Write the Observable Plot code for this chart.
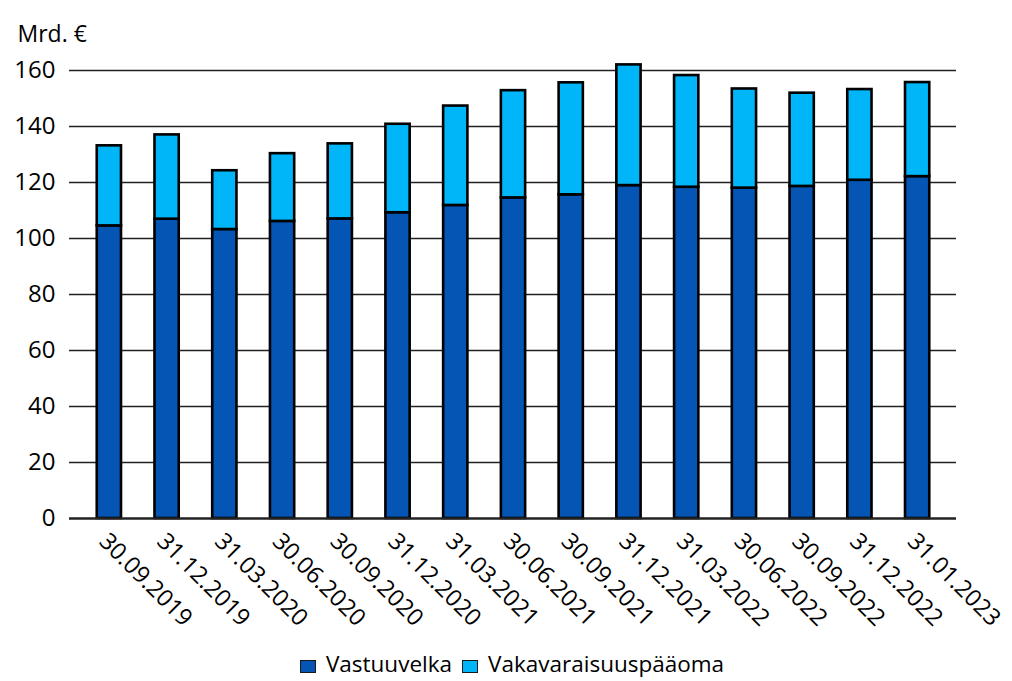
<!DOCTYPE html>
<html>
<head>
<meta charset="utf-8">
<script src="https://cdn.jsdelivr.net/npm/d3@7"></script>
<script src="https://cdn.jsdelivr.net/npm/@observablehq/plot@0.6"></script>
<style>
  body { margin: 0; background: white; font-family: "Open Sans", sans-serif; }
  #legend { display: flex; justify-content: center; align-items: center; height: 36px; font-size: 22.5px; color: #000; padding-left: 12px; }
  .item { display: flex; align-items: center; margin: 0 5px; }
  .sw { width: 14px; height: 11px; border: 1px solid #1a1a1a; margin-right: 10px; margin-top: 7px; }
</style>
</head>
<body>
<div id="chart"></div>
<div id="legend"></div>
<script>
const dates = ["30.09.2019","31.12.2019","31.03.2020","30.06.2020","30.09.2020","31.12.2020","31.03.2021","30.06.2021","30.09.2021","31.12.2021","31.03.2022","30.06.2022","30.09.2022","31.12.2022","31.01.2023"];
const vastuuvelka = [104.5, 106.9, 103.2, 106.1, 107.0, 109.2, 111.8, 114.5, 115.6, 118.9, 118.3, 118.0, 118.6, 120.8, 122.1];
const vakavaraisuuspaaoma = [28.6, 30.1, 21.0, 24.2, 26.8, 31.6, 35.5, 38.3, 40.0, 43.1, 39.9, 35.4, 33.3, 32.4, 33.6];
const seriesNames = ["Vastuuvelka", "Vakavaraisuuspääoma"];
const seriesColors = ["#0455B4", "#00B6F8"];
const yTicks = [0, 20, 40, 60, 80, 100, 120, 140, 160];

const rows = [];
dates.forEach((d, i) => {
  rows.push({date: d, series: seriesNames[0], value: vastuuvelka[i]});
  rows.push({date: d, series: seriesNames[1], value: vakavaraisuuspaaoma[i]});
});

const plot = Plot.plot({
  width: 1012,
  height: 645,
  marginLeft: 80,
  marginRight: 66,
  marginTop: 70,
  marginBottom: 127,
  style: {fontFamily: "Open Sans", fontSize: "24px", color: "#000", background: "white"},
  x: {domain: dates, paddingInner: 0.58, paddingOuter: 0.29, round: false, label: null},
  y: {domain: [0, 160], label: null},
  color: {domain: seriesNames, range: seriesColors},
  marks: [
    Plot.ruleY(yTicks.filter(t => t > 0), {stroke: "#222", strokeWidth: 1.4, insetLeft: -11, insetRight: -10}),
    Plot.barY(rows, Plot.stackY({x: "date", y: "value", fill: "series", order: seriesNames, stroke: "#000", strokeWidth: 2.6})),
    Plot.ruleY([0], {stroke: "#222", strokeWidth: 2.6, insetLeft: -11, insetRight: -10}),
    Plot.axisY({ticks: yTicks, tickSize: 0, tickPadding: 25, tickFormat: d => d, fontSize: 24}),
    Plot.axisX({tickSize: 0, tickRotate: 45, tickPadding: 19, dx: -6, fontSize: 23.5}),
    Plot.text(["Mrd. €"], {frameAnchor: "top-left", dx: -63, dy: -45, textAnchor: "start", fontSize: 23})
  ]
});
document.getElementById("chart").appendChild(plot);

const legend = document.getElementById("legend");
seriesNames.forEach((n, i) => {
  const it = document.createElement("div");
  it.className = "item";
  const sw = document.createElement("div");
  sw.className = "sw";
  sw.style.background = seriesColors[i];
  it.appendChild(sw);
  const t = document.createElement("span");
  t.textContent = n;
  it.appendChild(t);
  legend.appendChild(it);
});
</script>
</body>
</html>
